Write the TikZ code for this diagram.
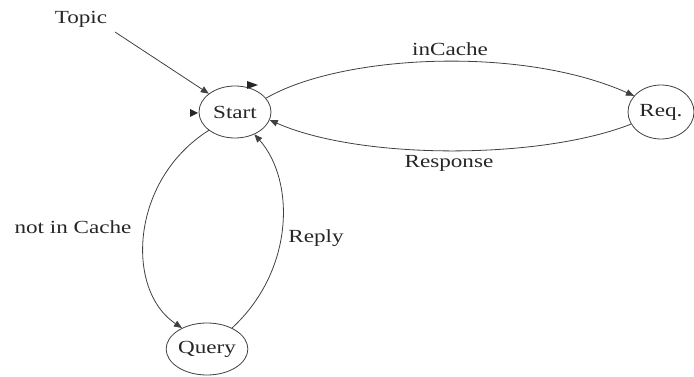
\documentclass[tikz,border=0pt]{standalone}
\usepackage{fontspec}
\setmainfont{Liberation Serif}
\usetikzlibrary{shapes.geometric,arrows.meta}
\newcommand{\wtxt}[1]{\scalebox{1.25}[1]{#1}}
\begin{document}
\begin{tikzpicture}[x=1pt,y=-1pt,
  every node/.style={font=\fontsize{18.5}{20}\selectfont, text=black!85},
  state/.style={draw=black!75, line width=0.8pt, ellipse, inner sep=0pt},
  edge/.style={draw=black!75, line width=0.8pt, -{Triangle[length=8pt,width=6.5pt]}},
  tip/.style={fill=black!85}]
\useasboundingbox (0,0) rectangle (694,377);

% states
\node[state, minimum width=72pt, minimum height=52pt] (start) at (235,112) {\wtxt{Start}};
\node[state, minimum width=66pt, minimum height=54pt] (req) at (661,112) {\wtxt{Req.}};
\node[state, minimum width=74pt, minimum height=52pt] (query) at (207,349) {\wtxt{Query}};

% labels
\node (topic) at (81,19) {\wtxt{Topic}};
\node (lcache) at (450,49) {\wtxt{inCache}};
\node (lresp) at (449,163) {\wtxt{Response}};
\node (lnot) at (73,227) {\wtxt{not in Cache}};
\node (lreply) at (316,238) {\wtxt{Reply}};

% entry arrow
\coordinate (tsrc) at (115,32);
\draw[edge] (tsrc) -- (start.145);

% transitions
\draw[edge] (start.24) .. controls (340,55) and (520,45) .. (req.149);
\draw[edge] (req.202) .. controls (540,160) and (360,160) .. (start.347);
\draw[edge] (start.215) .. controls (130,180) and (125,290) .. (query.140);
\draw[edge] (query.40) .. controls (295,270) and (295,180) .. (start.311);

% loose arrow tips beside the start state
\fill[tip] (247,81) -- (258,85) -- (247,89) -- cycle;
\fill[tip] (190,109) -- (198,113) -- (190,117) -- cycle;
\end{tikzpicture}
\end{document}
